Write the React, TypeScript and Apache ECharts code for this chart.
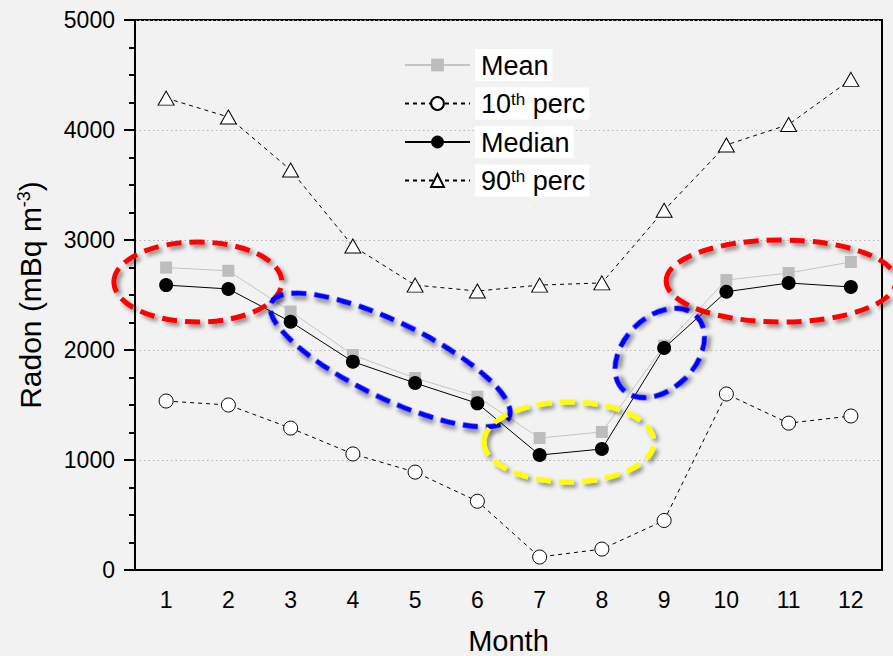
import React, { useEffect, useRef } from "react";
import * as echarts from "echarts";

const months = ["1", "2", "3", "4", "5", "6", "7", "8", "9", "10", "11", "12"];
const meanValues = [2750, 2720, 2350, 1955, 1745, 1575, 1200, 1255, 2040, 2636, 2700, 2800];
const p10Values = [1536, 1500, 1290, 1055, 890, 625, 118, 190, 450, 1600, 1335, 1400];
const medianValues = [2590, 2555, 2257, 1894, 1700, 1515, 1045, 1100, 2018, 2530, 2609, 2573];
const p90Values = [4290, 4118, 3636, 2945, 2590, 2536, 2590, 2610, 3270, 3864, 4050, 4460];
const yTicks = [0, 1000, 2000, 3000, 4000, 5000];

// highlight ellipses: centre in data units (month, radon), radii in px
const highlights = [
  { cx: 1.51, cy: 2618, rx: 84, ry: 40, rot: 0, color: "#ff0000" },
  { cx: 4.6, cy: 1909, rx: 132, ry: 38, rot: -25.8, color: "#0000ff" },
  { cx: 7.47, cy: 1164, rx: 85, ry: 40, rot: 0, color: "#ffff00" },
  { cx: 8.93, cy: 1973, rx: 52, ry: 36, rot: 45, color: "#0000ff" },
  { cx: 10.88, cy: 2627, rx: 115, ry: 41, rot: 0, color: "#ff0000" },
];

const FONT = 'Arial, "Liberation Sans", sans-serif';

export default function App() {
  const ref = useRef<HTMLDivElement>(null);
  useEffect(() => {
    const chart = echarts.init(ref.current!, null, { renderer: "svg" });
    const option: any = {
      animation: false,
      backgroundColor: "#f2f2f2",
      textStyle: { fontFamily: FONT },
      grid: {
        left: 135,
        right: 11,
        top: 20,
        bottom: 86,
        containLabel: false,
        outerBoundsMode: "none",
        show: true,
        borderColor: "#000",
        borderWidth: 2,
        backgroundColor: "transparent",
      },
      legend: {
        orient: "vertical",
        left: 399,
        top: 44,
        itemWidth: 65,
        itemHeight: 16,
        itemGap: 6.5,
        data: ["Mean", "10th perc", "Median", "90th perc"],
        formatter: (name: string) =>
          name.replace(/^(\d+)th/, "$1{sup|th}"),
        textStyle: {
          fontFamily: FONT,
          fontSize: 27,
          color: "#000",
          backgroundColor: "#fff",
          padding: [3, 4, 2, 6],
          rich: {
            sup: { fontSize: 17, verticalAlign: "top", fontFamily: FONT, color: "#000" },
          },
        },
      },
      xAxis: [
        {
          type: "category",
          data: months,
          position: "bottom",
          name: "Month",
          nameLocation: "middle",
          nameGap: 56,
          nameTextStyle: { fontSize: 29, color: "#000", fontFamily: FONT },
          axisLine: { lineStyle: { color: "#000", width: 2 } },
          axisTick: { alignWithLabel: true, length: 10, lineStyle: { color: "#000", width: 2 } },
          axisLabel: { fontSize: 23, color: "#000", margin: 18, fontFamily: FONT },
          splitLine: { show: false },
        },
        {
          type: "category",
          data: months,
          position: "bottom",
          axisLine: { show: false },
          axisTick: { length: 5, lineStyle: { color: "#000", width: 2 } },
          axisLabel: { show: false },
          splitLine: { show: false },
        },
        {
          type: "value",
          show: false,
          min: 0.5,
          max: 12.5,
          position: "bottom",
        },
      ],
      yAxis: {
        type: "value",
        min: yTicks[0],
        max: yTicks[yTicks.length - 1],
        interval: 1000,
        name: "Radon (mBq m{sup|-3})",
        nameLocation: "middle",
        nameGap: 90,
        nameTextStyle: {
          fontSize: 30,
          color: "#000",
          fontFamily: FONT,
          rich: { sup: { fontSize: 18, verticalAlign: "top", fontFamily: FONT, color: "#000" } },
        },
        axisLine: { show: true, lineStyle: { color: "#000", width: 2 } },
        axisTick: { show: true, length: 11, lineStyle: { color: "#000", width: 2 } },
        minorTick: { show: true, splitNumber: 4, length: 6, lineStyle: { color: "#000", width: 2 } },
        axisLabel: {
          fontSize: 23,
          color: "#000",
          margin: 20,
          fontFamily: FONT,
          formatter: (v: number) => String(v),
        },
        splitLine: { show: true, lineStyle: { color: "#b4b4b4", width: 1, type: [1.5, 3] } },
      },
      series: [
        {
          name: "Mean",
          type: "line",
          data: meanValues,
          symbol: "rect",
          symbolSize: 12,
          itemStyle: { color: "#bdbdbd" },
          lineStyle: { color: "#c4c4c4", width: 1 },
          z: 2,
        },
        {
          name: "10th perc",
          type: "line",
          data: p10Values,
          symbol: "circle",
          symbolSize: 14,
          itemStyle: { color: "#fff", borderColor: "#000", borderWidth: 1 },
          lineStyle: { color: "#000", width: 1, type: [4, 4] },
          z: 3,
        },
        {
          name: "Median",
          type: "line",
          data: medianValues,
          symbol: "circle",
          symbolSize: 14,
          itemStyle: { color: "#000" },
          lineStyle: { color: "#000", width: 1 },
          z: 4,
        },
        {
          name: "90th perc",
          type: "line",
          data: p90Values,
          symbol: "triangle",
          symbolSize: [16, 14],
          itemStyle: { color: "#fff", borderColor: "#000", borderWidth: 1 },
          lineStyle: { color: "#000", width: 1, type: [4, 4] },
          z: 3,
        },
      ],
    };
    chart.setOption(option);
    const graphics = highlights.map((h) => {
      const p = chart.convertToPixel({ xAxisIndex: 2, yAxisIndex: 0 } as any, [h.cx, h.cy]) as number[];
      return {
        type: "ellipse",
        x: p[0],
        y: p[1],
        rotation: (h.rot * Math.PI) / 180,
        shape: { cx: 0, cy: 0, rx: h.rx, ry: h.ry },
        style: {
          fill: "none",
          stroke: h.color,
          lineWidth: 5,
          lineDash: [15, 8],
          shadowBlur: 4,
          shadowColor: "rgba(0,0,0,0.45)",
          shadowOffsetX: 3,
          shadowOffsetY: 3,
        },
        z: 100,
        silent: true,
      };
    });
    chart.setOption({ graphic: graphics });
    return () => chart.dispose();
  }, []);
  return (
    <div
      ref={ref}
      style={{ position: "absolute", left: 0, top: 0, width: 893, height: 656 }}
    />
  );
}
